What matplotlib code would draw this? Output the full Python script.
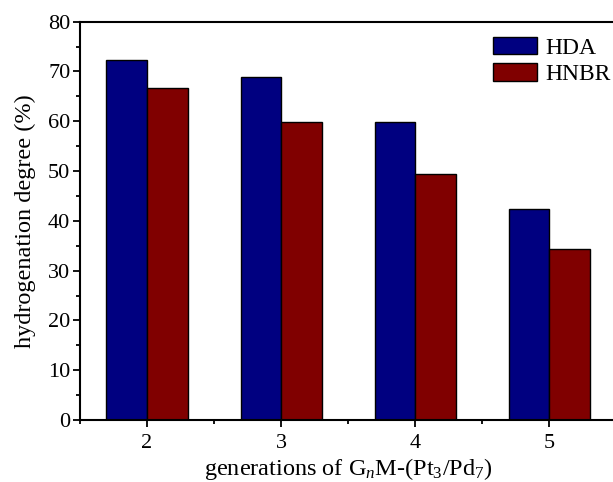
import matplotlib
matplotlib.use("Agg")
import matplotlib.pyplot as plt
import numpy as np

plt.rcParams['font.family'] = ['Liberation Serif', 'DejaVu Serif']
plt.rcParams['mathtext.fontset'] = 'custom'
plt.rcParams['mathtext.rm'] = 'Liberation Serif'
plt.rcParams['mathtext.it'] = 'Liberation Serif:italic'

# data
generations = [2, 3, 4, 5]
hda = [72.4, 68.9, 59.8, 42.3]
hnbr = [66.7, 59.8, 49.5, 34.3]

fig = plt.figure(figsize=(6.13, 4.82), dpi=100)
ax = fig.add_axes([0.1305, 0.1286, 0.875, 0.8264])

x = np.array(generations)
w = 0.303
ax.bar(x - w / 2, hda, w, color='#000080', edgecolor='black', linewidth=1, label='HDA')
ax.bar(x + w / 2, hnbr, w, color='#800000', edgecolor='black', linewidth=1, label='HNBR')

ax.set_xlim(1.5, 5.5)
ax.set_ylim(0, 80)
ax.set_xticks(generations)
ax.set_xticks([1.5, 2.5, 3.5, 4.5], minor=True)
ax.set_yticks(range(0, 81, 10))
ax.set_yticks(range(5, 80, 10), minor=True)
ax.tick_params(axis='both', which='major', direction='out', length=5, width=1.3, labelsize=16)
ax.tick_params(axis='both', which='minor', direction='out', length=3, width=1.3)
ax.tick_params(axis='x', pad=5)
ax.tick_params(axis='y', pad=2)
for s in ax.spines.values():
    s.set_linewidth(1.5)

ax.set_xlabel('generations of G$_{n}$M-(Pt$_{3}$/Pd$_{7}$)', fontsize=17.5, labelpad=2)
ax.set_ylabel('hydrogenation degree (%)', fontsize=17.5, labelpad=9)

ax.legend(loc='upper left', bbox_to_anchor=(0.77, 0.962), frameon=False, fontsize=17,
          handlelength=1.85, handleheight=0.75, handletextpad=0.35, labelspacing=0.2,
          borderaxespad=0.0, borderpad=0.0)

fig.savefig('out.png', dpi=100)
